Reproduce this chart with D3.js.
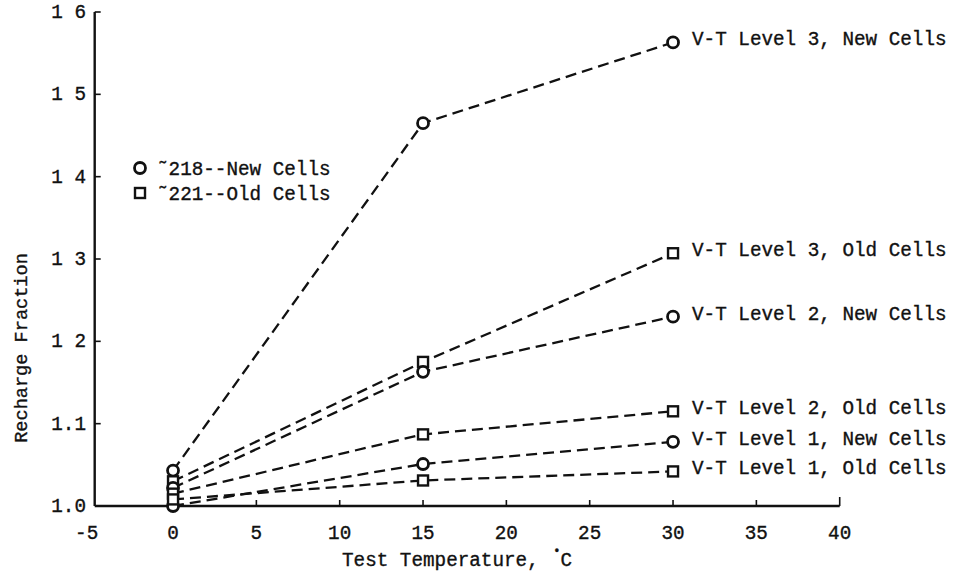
<!DOCTYPE html>
<html>
<head>
<meta charset="utf-8">
<script src="https://cdn.jsdelivr.net/npm/d3@7"></script>
<style>
  html, body { margin: 0; padding: 0; background: #fff; }
  svg { display: block; }
  text {
    font-family: "Liberation Mono", "DejaVu Sans Mono", monospace;
    fill: #111;
    stroke: #111;
    stroke-width: 0.35px;
  }
</style>
</head>
<body>
<svg id="chart" width="962" height="573"></svg>
<script>
// Test temperatures (°C) at which the recharge fraction was measured
const temperatures = [0, 15, 30];

// Recharge fraction per V-T level, new cells (~218) and old cells (~221)
const level3New = [1.043, 1.465, 1.563];
const level3Old = [1.030, 1.175, 1.307];
const level2New = [1.022, 1.163, 1.230];
const level2Old = [1.015, 1.087, 1.115];
const level1New = [1.000, 1.051, 1.078];
const level1Old = [1.008, 1.031, 1.042];

const seriesNames = [
  "V-T Level 3, New Cells",
  "V-T Level 3, Old Cells",
  "V-T Level 2, New Cells",
  "V-T Level 2, Old Cells",
  "V-T Level 1, New Cells",
  "V-T Level 1, Old Cells"
];
const seriesMarkers = ["circle", "square", "circle", "square", "circle", "square"];

const xTicks = [-5, 0, 5, 10, 15, 20, 25, 30, 35, 40];
const yTicks = [1.0, 1.1, 1.2, 1.3, 1.4, 1.5, 1.6];
const yTickLabels = ["1.0", "1.1", "1 2", "1 3", "1 4", "1 5", "1 6"];

const legendLabels = ["\u02DC218--New Cells", "\u02DC221--Old Cells"];
const legendMarkers = ["circle", "square"];

const series = [level3New, level3Old, level2New, level2Old, level1New, level1Old]
  .map((vals, i) => ({
    name: seriesNames[i],
    marker: seriesMarkers[i],
    points: vals.map((v, j) => ({ t: temperatures[j], r: v }))
  }));

const svg = d3.select("#chart");

const x = d3.scaleLinear().domain([-5, 40]).range([89.7, 839.7]);
const y = d3.scaleLinear().domain([1.0, 1.6]).range([506, 12]);

const ink = "#111";
const fontSize = 19.3;
const axisX0 = x(-5) + 5;

// x axis: baseline with short upward ticks
const xAxis = svg.append("g").attr("transform", `translate(0,${y(1.0)})`);
xAxis.append("line")
  .attr("x1", axisX0).attr("x2", x(40))
  .attr("stroke", ink).attr("stroke-width", 2.4);
xAxis.selectAll("line.tick")
  .data(xTicks.filter(d => d > 0))
  .join("line")
  .attr("class", "tick")
  .attr("x1", d => x(d)).attr("x2", d => x(d))
  .attr("y1", 0).attr("y2", d => d === 40 ? -9 : -6)
  .attr("stroke", ink).attr("stroke-width", 1.6);
xAxis.selectAll("text")
  .data(xTicks)
  .join("text")
  .attr("x", d => x(d) - (d < 0 ? 3 : 0))
  .attr("y", 33)
  .attr("text-anchor", "middle")
  .attr("font-size", fontSize)
  .text(d => d < 0 ? "-" + Math.abs(d) : String(d));

// y axis: vertical line with short ticks pointing into the plot
const yAxis = svg.append("g");
yAxis.append("line")
  .attr("x1", axisX0).attr("x2", axisX0)
  .attr("y1", y(1.6)).attr("y2", y(1.0))
  .attr("stroke", ink).attr("stroke-width", 2.4);
yAxis.selectAll("line.tick")
  .data(yTicks.filter(d => d > 1.0))
  .join("line")
  .attr("class", "tick")
  .attr("x1", axisX0).attr("x2", axisX0 + 6)
  .attr("y1", d => y(d)).attr("y2", d => y(d))
  .attr("stroke", ink).attr("stroke-width", 1.6);
yAxis.selectAll("text")
  .data(yTicks)
  .join("text")
  .attr("x", 86)
  .attr("y", d => y(d) + 6)
  .attr("text-anchor", "end")
  .attr("font-size", fontSize)
  .text((d, i) => yTickLabels[i]);

// axis titles
const xTitle = svg.append("text")
  .attr("x", 342).attr("y", 566)
  .attr("font-size", fontSize);
xTitle.append("tspan").text("Test Temperature, ");
xTitle.append("tspan").attr("dx", 3).attr("dy", -11).attr("font-size", 12).text("\u2022");
xTitle.append("tspan").attr("dy", 11).text("C");

svg.append("text")
  .attr("transform", `translate(27,${348}) rotate(-90)`)
  .attr("text-anchor", "middle")
  .attr("font-size", 18.6)
  .text("Recharge Fraction");

// dashed connecting lines
const line = d3.line().x(d => x(d.t)).y(d => y(d.r));
svg.append("g").selectAll("path")
  .data(series)
  .join("path")
  .attr("d", d => line(d.points))
  .attr("fill", "none")
  .attr("stroke", ink)
  .attr("stroke-width", 2.3)
  .attr("stroke-dasharray", "11,6");

// markers
function drawMarker(g, kind, cx, cy) {
  if (kind === "circle") {
    g.append("circle").attr("cx", cx).attr("cy", cy).attr("r", 5.5)
      .attr("fill", "#fff").attr("stroke", ink).attr("stroke-width", 2.8);
  } else {
    g.append("rect").attr("x", cx - 5).attr("y", cy - 5)
      .attr("width", 10).attr("height", 10)
      .attr("fill", "#fff").attr("stroke", ink).attr("stroke-width", 2.4);
  }
}
const markerLayer = svg.append("g");
series.forEach(s => {
  s.points.forEach(p => drawMarker(markerLayer, s.marker, x(p.t), y(p.r)));
});

// end-of-line labels
svg.append("g").selectAll("text")
  .data(series)
  .join("text")
  .attr("x", d => x(d.points[d.points.length - 1].t) + 19)
  .attr("y", d => y(d.points[d.points.length - 1].r) + 3)
  .attr("font-size", fontSize)
  .text(d => d.name);

// legend
const legend = svg.append("g");
legendLabels.forEach((lab, i) => {
  const ly = 168 + i * 25;
  drawMarker(legend, legendMarkers[i], 140, ly);
  legend.append("text")
    .attr("x", 157).attr("y", ly + 7)
    .attr("font-size", fontSize)
    .text(lab);
});
</script>
</body>
</html>
